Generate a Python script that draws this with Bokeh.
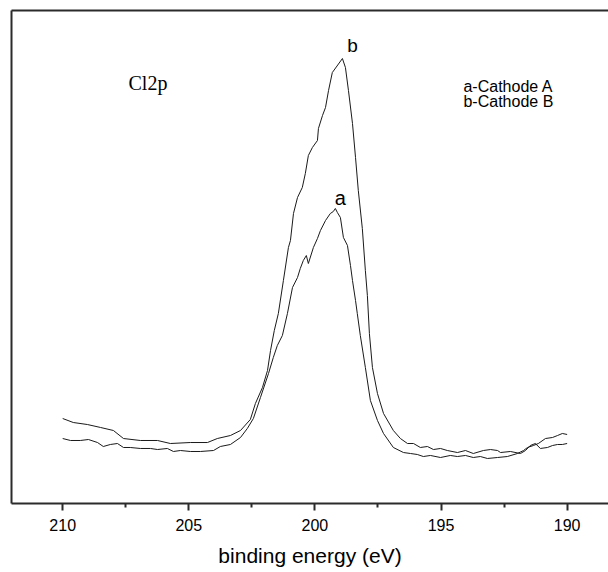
from bokeh.plotting import figure
from bokeh.models import Range1d, FixedTicker, LinearAxis, Label
from bokeh.embed import file_html
from bokeh.resources import INLINE

# binding energy (eV) and intensity (a.u.)
energy_b = [210.0, 209.58, 209.02, 208.50, 207.99, 207.59, 206.92, 206.24, 205.73, 204.94,
            204.26, 203.87, 203.35, 202.95, 202.56, 202.36, 202.08, 201.88, 201.76, 201.61,
            201.45, 201.25, 201.05, 200.97, 200.85, 200.69, 200.50, 200.38, 200.26, 200.10,
            199.90, 199.86, 199.70, 199.58, 199.46, 199.31, 198.91, 198.79, 198.67, 198.51,
            198.39, 198.28, 198.12, 198.00, 197.92, 197.84, 197.72, 197.52, 197.28, 196.89,
            196.61, 196.33, 196.09, 195.82, 195.54, 195.30, 195.02, 194.75, 194.35, 194.03,
            193.72, 193.32, 193.04, 192.76, 192.64, 192.25, 191.85, 191.65, 191.46, 191.26,
            191.06, 190.78, 190.58, 190.38, 190.19, 190.0]
intensity_b = [17.24, 16.43, 16.02, 15.42, 14.81, 13.18, 12.78, 12.78, 12.17, 12.37,
               12.37, 13.18, 13.79, 14.81, 17.04, 20.28, 23.53, 26.98, 31.03, 35.09,
               38.54, 45.23, 51.93, 53.35, 58.82, 62.07, 64.10, 66.94, 70.59, 72.21,
               73.63, 76.07, 78.70, 80.32, 83.77, 87.42, 90.26, 88.44, 83.77, 77.08,
               70.18, 63.49, 55.78, 47.26, 42.19, 34.48, 27.59, 22.31, 18.26, 14.81,
               13.18, 12.17, 12.17, 11.36, 11.56, 10.95, 11.16, 10.75, 10.34, 10.75,
               10.14, 10.75, 10.95, 10.75, 10.34, 10.55, 10.14, 10.75, 11.76, 12.17,
               11.16, 11.36, 11.76, 11.97, 11.97, 12.17]

energy_a = [210.0, 209.69, 209.30, 208.98, 208.62, 208.39, 208.11, 207.83, 207.59, 207.32,
            206.92, 206.52, 206.24, 205.85, 205.61, 205.33, 204.94, 204.54, 204.02, 203.75,
            203.35, 202.95, 202.68, 202.44, 202.16, 201.84, 201.65, 201.49, 201.29, 201.09,
            200.89, 200.69, 200.58, 200.46, 200.34, 200.26, 200.06, 199.90, 199.78, 199.58,
            199.39, 199.27, 199.19, 199.11, 198.99, 198.87, 198.71, 198.59, 198.51, 198.39,
            198.32, 198.20, 198.00, 197.80, 197.52, 197.28, 196.89, 196.49, 196.21, 195.94,
            195.70, 195.42, 195.02, 194.63, 194.35, 194.03, 193.72, 193.44, 193.16, 192.76,
            192.37, 191.97, 191.73, 191.57, 191.34, 191.14, 190.86, 190.58, 190.38, 190.19,
            190.0]
intensity_a = [13.18, 12.78, 12.78, 12.98, 12.37, 11.56, 11.97, 12.17, 11.36, 11.36,
               11.16, 11.16, 10.95, 11.16, 10.55, 10.75, 10.55, 10.55, 10.75, 11.56,
               11.97, 13.39, 15.21, 17.24, 21.50, 26.37, 29.61, 32.05, 34.08, 38.54,
               43.81, 45.84, 47.67, 49.29, 50.30, 48.68, 51.93, 53.75, 55.38, 57.40,
               58.82, 59.23, 59.84, 59.03, 58.01, 53.96, 52.33, 48.28, 45.23, 41.18,
               38.54, 34.08, 27.59, 20.89, 16.84, 14.20, 11.36, 10.34, 10.14, 9.94,
               9.53, 9.74, 9.33, 9.74, 9.53, 9.74, 9.33, 9.53, 9.13, 9.33,
               9.53, 10.14, 10.75, 11.36, 11.76, 12.17, 13.18, 13.39, 13.79, 14.20,
               14.00]

major_ticks = [210, 205, 200, 195, 190]
minor_ticks = [207.5, 202.5, 197.5, 192.5]
x_title = "binding energy (eV)"
legend_lines = ["a-Cathode A", "b-Cathode B"]

AX = "#2b2b2b"
LINE = "#1a1a1a"

p = figure(width=608, height=572, x_range=Range1d(212.03, 188.36), y_range=Range1d(0, 100),
           output_backend="svg", toolbar_location=None,
           min_border_left=11, min_border_right=0, min_border_top=10, min_border_bottom=69)
p.outline_line_color = None
p.grid.visible = False
p.background_fill_color = "white"
p.border_fill_color = "white"

# bottom axis
xa = p.xaxis[0]
xa.ticker = FixedTicker(ticks=major_ticks, minor_ticks=minor_ticks)
xa.axis_line_color = AX
xa.axis_line_width = 2
xa.major_tick_line_color = AX
xa.major_tick_line_width = 2
xa.major_tick_in = 0
xa.major_tick_out = 7
xa.minor_tick_line_color = AX
xa.minor_tick_line_width = 2
xa.minor_tick_in = 0
xa.minor_tick_out = 4
xa.major_label_text_font = "Liberation Sans"
xa.major_label_text_font_size = "16px"
xa.major_label_text_color = "black"
xa.major_label_standoff = 8
xa.axis_label = x_title
xa.axis_label_text_font = "Liberation Sans"
xa.axis_label_text_font_size = "21px"
xa.axis_label_text_font_style = "normal"
xa.axis_label_text_color = "black"
xa.axis_label_standoff = 10

# left axis used only as the frame line
ya = p.yaxis[0]
ya.ticker = FixedTicker(ticks=[])
ya.axis_line_color = AX
ya.axis_line_width = 2
ya.major_tick_out = 0
ya.minor_tick_out = 0
ya.major_label_standoff = 0

top = LinearAxis(ticker=FixedTicker(ticks=[]), axis_line_color=AX, axis_line_width=2,
                 major_tick_out=0, minor_tick_out=0, major_label_standoff=0)
p.add_layout(top, "above")

p.line(energy_b, intensity_b, line_color=LINE, line_width=1)
p.line(energy_a, intensity_a, line_color=LINE, line_width=1)

p.add_layout(Label(x=198.51, y=92.8, text="b", text_align="center", text_baseline="alphabetic",
                   text_font="Liberation Sans", text_font_size="19px", text_color="black"))
p.add_layout(Label(x=198.99, y=62.0, text="a", text_align="center", text_baseline="alphabetic",
                   text_font="Liberation Sans", text_font_size="20px", text_color="black"))
p.add_layout(Label(x=207.39, y=85.2, text="Cl2p", text_align="left", text_baseline="alphabetic",
                   text_font="Liberation Serif", text_font_size="20px", text_color="black"))
p.add_layout(Label(x=194.11, y=84.56, text=legend_lines[0], text_align="left", text_baseline="alphabetic",
                   text_font="Liberation Sans", text_font_size="16px", text_color="black"))
p.add_layout(Label(x=194.11, y=81.5, text=legend_lines[1], text_align="left", text_baseline="alphabetic",
                   text_font="Liberation Sans", text_font_size="16px", text_color="black"))

open("out.html", "w").write(file_html(p, INLINE))
